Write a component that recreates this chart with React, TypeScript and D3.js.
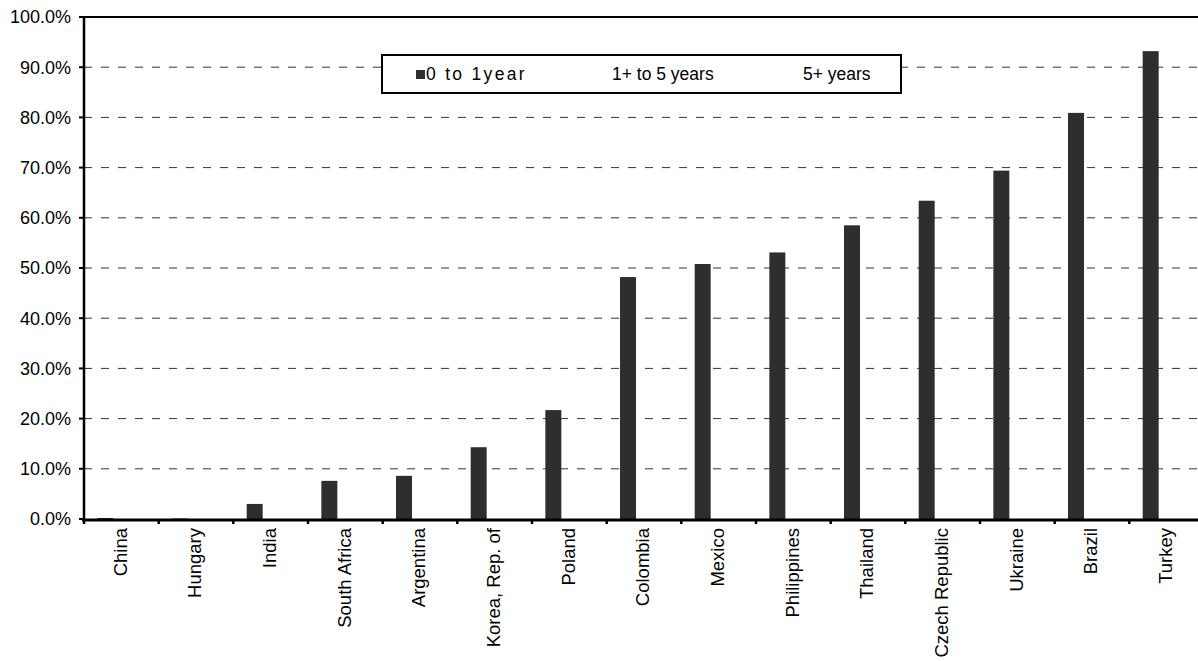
import React from "react";
import * as d3 from "d3";

const categories = ["China","Hungary","India","South Africa","Argentina","Korea, Rep. of","Poland","Colombia","Mexico","Philippines","Thailand","Czech Republic","Ukraine","Brazil","Turkey"];
const seriesNames = ["0 to 1year", "1+ to 5 years", "5+ years"];
const short = [0.002, 0.001, 0.030, 0.076, 0.086, 0.143, 0.217, 0.482, 0.508, 0.531, 0.585, 0.634, 0.694, 0.809, 0.932];
const mid = [0,0,0,0,0,0,0,0,0,0,0,0,0,0,0];
const long = [0,0,0,0,0,0,0,0,0,0,0,0,0,0,0];
const seriesValues = [short, mid, long];
const seriesColors = ["#2e2e2e", "#ffffff", "#ffffff"];
const yTicks = [0,0.1,0.2,0.3,0.4,0.5,0.6,0.7,0.8,0.9,1.0];

const W = 1198, H = 661;
const FONT = "'Liberation Sans', Arial, sans-serif";

export default function App() {
  const x = d3.scaleBand<string>().domain(categories).range([84, 1204]).paddingInner(0).paddingOuter(0);
  const xs = d3.scaleBand<string>().domain(seriesNames).range([0, x.bandwidth()]).paddingInner(0).paddingOuter(0.835);
  const y = d3.scaleLinear().domain([0, 1]).range([519, 17]);
  const fmt = d3.format(".1%");
  const boundaries = categories.map(c => x(c) as number).concat([(x(categories[categories.length - 1]) as number) + x.bandwidth()]);
  const legendX = [412, 598, 789];
  const legendSpacing = [2.3, 0, 0];
  return (
    <svg width={W} height={H} style={{ position: "absolute", left: 0, top: 0, background: "#fff" }} fontFamily={FONT}>
      <rect x={0} y={0} width={W} height={H} fill="#fff" />
      {yTicks.filter(t => t > 0 && t < 1).map(t => (
        <line key={t} x1={84} x2={W} y1={y(t)} y2={y(t)} stroke="#333" strokeWidth={1} strokeDasharray="8,9" />
      ))}
      {seriesValues.map((vals, si) => vals.map((v, i) => (
        <rect key={si + "-" + i} x={(x(categories[i]) as number) + (xs(seriesNames[si]) as number)} width={xs.bandwidth()}
          y={y(v)} height={y(0) - y(v)} fill={seriesColors[si]} />
      )))}
      <line x1={84} x2={W} y1={y(1)} y2={y(1)} stroke="#000" strokeWidth={2} />
      <line x1={84} x2={84} y1={y(1) - 1} y2={y(0) + 2} stroke="#000" strokeWidth={2.5} />
      <line x1={82} x2={W} y1={y(0) + 1} y2={y(0) + 1} stroke="#000" strokeWidth={3} />
      {yTicks.map(t => (
        <g key={t}>
          <line x1={79} x2={84} y1={y(t)} y2={y(t)} stroke="#000" strokeWidth={2} />
          <text x={71} y={y(t)} dy="0.35em" textAnchor="end" fontSize={18} fill="#000">{fmt(t)}</text>
        </g>
      ))}
      {boundaries.map((b, i) => (
        <line key={i} x1={b} x2={b} y1={y(0)} y2={y(0) + 5} stroke="#000" strokeWidth={2.5} />
      ))}
      {categories.map(c => (
        <text key={c} transform={`translate(${(x(c) as number) + x.bandwidth() / 2 - 1},528) rotate(-90)`} dy="0.35em"
          textAnchor="end" fontSize={18.5} fill="#000">{c}</text>
      ))}
      <rect x={382} y={55} width={519} height={38} fill="#fff" stroke="#000" strokeWidth={2} />
      {seriesNames.map((s, i) => (
        <g key={s}>
          <rect x={legendX[i] + 4} y={70} width={9} height={9} fill={seriesColors[i]} />
          <text x={legendX[i] + 14} y={74} dy="0.35em" fontSize={17.5} letterSpacing={legendSpacing[i]} fill="#000">{s}</text>
        </g>
      ))}
    </svg>
  );
}
